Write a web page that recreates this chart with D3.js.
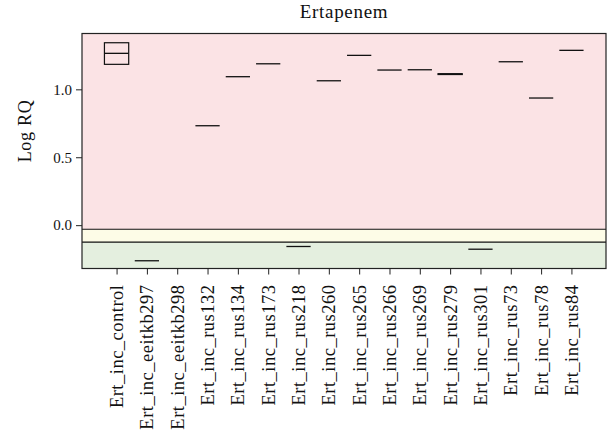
<!DOCTYPE html>
<html>
<head>
<meta charset="utf-8">
<script src="https://cdn.jsdelivr.net/npm/d3@7"></script>
<style>
  body { margin: 0; background: #fff; }
  svg text { font-family: "Liberation Serif", "Times New Roman", Times, "DejaVu Serif", serif; fill: #111; }
</style>
</head>
<body>
<div id="chart"></div>
<script>
var categories = ["Ert_inc_control", "Ert_inc_eeitkb297", "Ert_inc_eeitkb298", "Ert_inc_rus132",
    "Ert_inc_rus134", "Ert_inc_rus173", "Ert_inc_rus218", "Ert_inc_rus260", "Ert_inc_rus265",
    "Ert_inc_rus266", "Ert_inc_rus269", "Ert_inc_rus279", "Ert_inc_rus301", "Ert_inc_rus73",
    "Ert_inc_rus78", "Ert_inc_rus84"];
var medians    = [1.265, -0.262, null, 0.732, 1.093, 1.188, -0.157, 1.063, 1.250, 1.142, 1.144, 1.112, -0.177, 1.203, 0.936, 1.287];
var lowerHinge = [1.184, -0.262, null, 0.732, 1.093, 1.188, -0.157, 1.063, 1.250, 1.142, 1.144, 1.109, -0.177, 1.203, 0.936, 1.287];
var upperHinge = [1.343, -0.262, null, 0.732, 1.093, 1.188, -0.157, 1.063, 1.250, 1.142, 1.144, 1.115, -0.177, 1.203, 0.936, 1.287];
var yTicks = [0, 0.5, 1.0];
// band limits: pink above the first, yellow between, green below
var bandLimits = [-0.03, -0.125];
var title = "Ertapenem";
var yLabel = "Log RQ";

function drawChart() {
    var width = 607, height = 439;
    var plot = {left: 82, right: 606, top: 33.5, bottom: 268.5};

    var xScale = d3.scaleLinear()
        .domain([-0.14, categories.length + 1.14])
        .range([plot.left, plot.right]);

    var yScale = d3.scaleLinear()
        .domain([-0.319, 1.411])
        .range([plot.bottom, plot.top]);

    var svg = d3.select("#chart").append("svg")
        .attr("width", width)
        .attr("height", height);

    // background bands
    var bands = [
        {from: yScale.domain()[1], to: bandLimits[0], color: "#fbe3e5"},
        {from: bandLimits[0], to: bandLimits[1], color: "#fdfce7"},
        {from: bandLimits[1], to: yScale.domain()[0], color: "#e4efdf"}
    ];
    svg.selectAll(".band").data(bands).enter().append("rect")
        .attr("class", "band")
        .attr("x", plot.left)
        .attr("width", plot.right - plot.left)
        .attr("y", function(d) { return yScale(d.from); })
        .attr("height", function(d) { return yScale(d.to) - yScale(d.from); })
        .attr("fill", function(d) { return d.color; });

    svg.selectAll(".limit").data(bandLimits).enter().append("line")
        .attr("class", "limit")
        .attr("x1", plot.left).attr("x2", plot.right)
        .attr("y1", function(d) { return yScale(d); })
        .attr("y2", function(d) { return yScale(d); })
        .attr("stroke", "#111")
        .attr("stroke-width", 1.2);

    // boxes
    var rows = categories.map(function(c, i) {
        return {name: c, idx: i + 1, med: medians[i], lo: lowerHinge[i], hi: upperHinge[i]};
    }).filter(function(d) { return d.med !== null; });

    var hw = 0.4;
    svg.selectAll(".box").data(rows.filter(function(d) { return d.hi > d.lo; }))
        .enter().append("rect")
        .attr("class", "box")
        .attr("x", function(d) { return xScale(d.idx - hw); })
        .attr("width", function(d) { return xScale(d.idx + hw) - xScale(d.idx - hw); })
        .attr("y", function(d) { return yScale(d.hi); })
        .attr("height", function(d) { return yScale(d.lo) - yScale(d.hi); })
        .attr("fill", "none")
        .attr("stroke", "#111")
        .attr("stroke-width", 1.2);

    svg.selectAll(".median").data(rows).enter().append("line")
        .attr("class", "median")
        .attr("x1", function(d) { return xScale(d.idx - hw); })
        .attr("x2", function(d) { return xScale(d.idx + hw); })
        .attr("y1", function(d) { return yScale(d.med); })
        .attr("y2", function(d) { return yScale(d.med); })
        .attr("stroke", "#111")
        .attr("stroke-width", 1.3);

    // frame
    svg.append("rect")
        .attr("x", plot.left).attr("y", plot.top)
        .attr("width", plot.right - plot.left)
        .attr("height", plot.bottom - plot.top)
        .attr("fill", "none")
        .attr("stroke", "#222")
        .attr("stroke-width", 1.2);

    // y axis
    var yAxis = svg.append("g")
        .attr("transform", "translate(" + plot.left + ",0)")
        .call(d3.axisLeft(yScale).tickValues(yTicks).tickFormat(d3.format(".1f")).tickSize(6).tickPadding(4));
    yAxis.attr("font-family", null);
    yAxis.select(".domain").remove();
    yAxis.selectAll("line").attr("stroke", "#222");
    yAxis.selectAll("text").style("font-size", "15px").attr("fill", "#111");

    // x axis
    var xAxis = svg.append("g")
        .attr("transform", "translate(0," + plot.bottom + ")")
        .call(d3.axisBottom(xScale).tickValues(d3.range(1, categories.length + 1)).tickSize(6)
            .tickFormat(function(d) { return categories[d - 1]; }));
    xAxis.attr("font-family", null);
    xAxis.select(".domain").remove();
    xAxis.selectAll("line").attr("stroke", "#222");
    xAxis.selectAll("text")
        .style("font-size", "18.5px")
        .style("letter-spacing", "0.5px")
        .attr("fill", "#111")
        .attr("text-anchor", "end")
        .attr("transform", "rotate(-90)")
        .attr("x", -16)
        .attr("y", 0)
        .attr("dy", "0.32em");

    svg.append("text")
        .attr("x", (plot.left + plot.right) / 2)
        .attr("y", 18)
        .style("text-anchor", "middle")
        .style("font-size", "19px")
        .style("letter-spacing", "0.7px")
        .text(title);

    svg.append("text")
        .attr("transform", "rotate(-90)")
        .attr("x", -131)
        .attr("y", 25)
        .attr("dy", "0.35em")
        .style("text-anchor", "middle")
        .style("font-size", "18px")
        .style("letter-spacing", "0.7px")
        .text(yLabel);
}

drawChart();
</script>
</body>
</html>
